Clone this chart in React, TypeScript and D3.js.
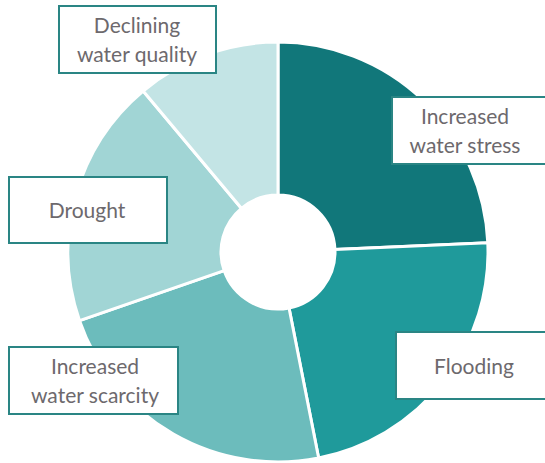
import React from "react";
import * as d3 from "d3";

const categories = [
  "Increased water stress",
  "Flooding",
  "Increased water scarcity",
  "Drought",
  "Declining water quality",
];
const values = [24.3, 22.6, 22.8, 19.2, 11.1];
const colors = ["#11777a", "#1f9a9b", "#6cbcbc", "#a1d5d5", "#c3e4e5"];

// label layout (box rect + text lines)
const labelLayout = [
  { x: 392, y: 97, w: 170, h: 67, cx: 465, lines: ["Increased", "water stress"], base: [124, 153] },
  { x: 396, y: 332, w: 170, h: 67, cx: 474, lines: ["Flooding"], base: [374] },
  { x: 9, y: 347, w: 169, h: 67, cx: 95, lines: ["Increased", "water scarcity"], base: [374, 403] },
  { x: 9, y: 177, w: 158, h: 66, cx: 87, lines: ["Drought"], base: [218] },
  { x: 59, y: 6, w: 157, h: 67, cx: 137, lines: ["Declining", "water quality"], base: [33, 62] },
];

export default function App() {
  const W = 545;
  const H = 463;
  const cx = 278;
  const cy = 252;
  const R = 210;
  const r = 57;
  const pie = d3.pie<number>().sort(null).value((d) => d);
  const arcs = pie(values);
  const arc = d3.arc<d3.PieArcDatum<number>>().innerRadius(r).outerRadius(R);
  return (
    <svg
      width={W}
      height={H}
      style={{ position: "absolute", left: 0, top: 0, background: "#fff" }}
      fontFamily="Lato, 'Open Sans', sans-serif"
    >
      <g transform={`translate(${cx},${cy})`}>
        {arcs.map((a, i) => (
          <path
            key={categories[i]}
            d={arc(a) || ""}
            fill={colors[i]}
            stroke="#fff"
            strokeWidth={3}
          />
        ))}
      </g>
      {labelLayout.map((l, i) => (
        <g key={categories[i]}>
          <rect
            x={l.x}
            y={l.y}
            width={l.w}
            height={l.h}
            fill="#fff"
            stroke="#2a8584"
            strokeWidth={2}
          />
          {l.lines.map((t, j) => (
            <text
              key={t}
              x={l.cx}
              y={l.base[j]}
              textAnchor="middle"
              fontSize={21}
              fill="#6d696d"
            >
              {t}
            </text>
          ))}
        </g>
      ))}
    </svg>
  );
}
